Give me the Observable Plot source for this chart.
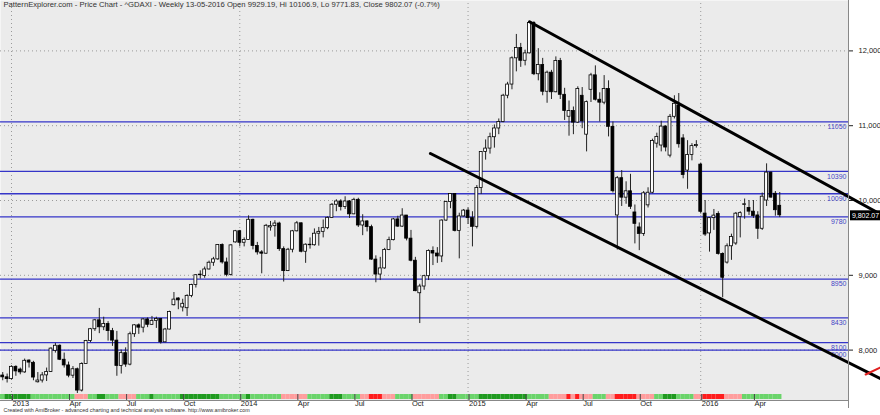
<!DOCTYPE html>
<html><head><meta charset="utf-8">
<script src="https://cdn.jsdelivr.net/npm/d3@7"></script>
<script src="https://cdn.jsdelivr.net/npm/@observablehq/plot@0.6"></script>
<style>body{margin:0;background:#fff} svg{display:block}</style>
</head><body><div id="chart"></div>
<script>
// ---------------- DATA ----------------
const titleText = "PatternExplorer.com - Price Chart - ^GDAXI - Weekly 13-05-2016 Open 9929.19, Hi 10106.9, Lo 9771.83, Close 9802.07 (-0.7%)";
const captionText = "Created with AmiBroker - advanced charting and technical analysis software. http://www.amibroker.com";
const firstWeek = "2012-12-21", lastWeek = "2016-05-13";

const opens = [7660,7636,7612,7776,7740,7702,7860,7830,7570,7593,7662,7708,7990,8058,7871,7795,7658,7744,7459,7814,
8122,8279,8398,8305,8349,8254,8127,7789,7959,7806,8212,8331,8300,8410,8338,8391,8416,8104,8275,8600,
8690,8570,8560,8725,8869,9001,8990,9078,9168,9213,9405,9172,9006,9440,9589,9435,9473,9742,9393,9306,
9289,9640,9657,9692,9350,9056,9342,9588,9695,9315,9409,9402,9556,9581,9630,9768,9943,9987,9912,9987,
9815,10009,9666,9720,9644,9210,9010,9092,9339,9470,9747,9651,9799,9490,9195,8760,8850,8988,9326,9291,
9252,9732,9980,10087,9594,9787,9865,9764,9648,10167,10649,10694,10846,10963,11050,11401,11550,11901,12039,11868,
11967,12374,11688,11811,11454,11709,11447,11864,11413,11120,11196,11041,11400,10880,11480,11673,11347,11308,11490,10985,
9800,10298,10038,10123,9840,9640,9553,9935,10104,10760,10735,10988,10600,11119,11270,10830,10400,10608,10727,10480,
9825,9560,9764,9820,9286,9170,9388,9425,9780,9940,9900,9851,9800,9622,10000,10373,10090,9929.19];
const highs = [7700,7680,7790,7790,7760,7880,7870,7850,7700,7700,7760,8030,8090,8070,7960,7840,7780,7760,7830,8130,
8290,8410,8557,8440,8380,8290,8250,8000,8030,8240,8340,8350,8420,8430,8450,8440,8420,8290,8520,8770,
8700,8680,8740,8880,9010,9060,9110,9190,9240,9410,9420,9230,9410,9600,9600,9500,9795,9750,9440,9330,
9680,9720,9730,9710,9380,9360,9600,9720,9700,9420,9500,9620,9640,9740,9780,9960,10010,10010,10050,10000,
10030,10030,9810,9730,9670,9260,9240,9360,9510,9760,9790,9890,9800,9600,9240,8880,9000,9340,9380,9370,
9740,9990,10093,10090,9830,9880,9900,9850,10200,10650,10810,10900,11010,11090,11420,11580,11920,12220,12100,12010,
12390,12390,12030,11900,11730,11740,11920,11900,11500,11330,11250,11520,11510,11330,11700,11800,11440,11670,11600,11050,
10320,10400,10250,10350,9940,9700,10120,10170,10820,10900,11060,11000,11150,11400,11430,10880,10800,10760,10800,10500,
10000,9770,9880,9850,9300,9420,9550,9840,9850,10020,10000,10000,9850,10100,10490,10380,10120,10106.9];
const lows = [7590,7560,7600,7650,7670,7690,7760,7590,7560,7560,7580,7700,7960,7860,7760,7630,7620,7420,7440,7810,
8100,8250,8220,8260,8120,8050,7650,7680,7770,7790,8170,8210,8230,8300,8330,8290,8080,8100,8270,8590,
8540,8510,8450,8700,8830,8950,8960,9070,9120,9200,9150,8980,8990,9430,9380,9380,9470,9340,9270,9020,
9280,9590,9510,9320,8910,9050,9300,9580,9300,9160,9350,9390,9390,9500,9610,9760,9850,9860,9880,9760,
9810,9640,9530,9580,9200,8900,8930,9080,9330,9460,9640,9640,9460,9180,8780,8355,8800,8930,9130,9160,
9170,9720,9890,9580,9220,9780,9680,9380,9620,10080,10540,10620,10700,10880,11040,11360,11480,11720,11780,11800,
11960,11670,11600,11400,11300,11350,11440,11350,11070,10860,10880,11030,10960,10650,11310,11330,11050,11280,10850,10100,
9338,9920,9950,9880,9420,9330,9520,9900,10090,10700,10650,10650,10570,11090,10700,10290,10150,10530,10700,9820,
9520,9310,9600,9270,8700,9150,9200,9400,9500,9750,9800,9760,9480,9600,9920,10030,9790,9771.83];
const closes = [7636,7612,7776,7715,7702,7857,7833,7633,7593,7662,7708,8020,8058,7871,7795,7658,7744,7459,7814,8122,
8279,8398,8305,8349,8254,8127,7789,7959,7806,8212,8331,8300,8410,8338,8391,8416,8104,8275,8510,8675,
8665,8619,8725,8869,9001,9009,9078,9168,9213,9405,9172,9006,9400,9589,9435,9473,9742,9393,9306,9289,
9662,9657,9692,9350,9056,9342,9588,9695,9315,9409,9402,9556,9581,9630,9768,9943,9987,9912,9987,9815,
10009,9666,9720,9644,9210,9010,9092,9339,9470,9747,9651,9799,9490,9195,8788,8850,8988,9326,9291,9252,
9732,9980,10087,9594,9787,9865,9764,9648,10167,10649,10694,10846,10963,11050,11401,11550,11901,12039,11868,11967,
12374,11688,11811,11454,11709,11447,11864,11413,11197,11196,11041,11492,11058,11315,11673,11347,11308,11490,10985,10124,
10298,10038,10123,9916,9688,9553,10096,10104,10795,10850,10988,10708,11119,11293,10752,10340,10608,10727,10743,9849,
9545,9764,9798,9286,8967,9388,9513,9824,9831,9950,9851,9794,9622,10051,10373,10039,9870,9802.07];

// trend ribbon, one letter per week: G dark green, g light green, p pink, r red
const trendCodes = "gGGGGGGggggggggggpppggGGgggppppgggGggggggGGGGGGGGGggggggGgggggggppppppgggggGGGggggpprrrpppggggppppppggGGgggggGGGGGGGGGGGgggggpppprprpppgggpprrrrrppppggGGGggggpprrrrrppppggggggggg";
const trendColors = {G: "#1f9a1f", g: "#6ad46a", p: "#ff9d9d", r: "#ff1c1c"};

const levels = [11050, 10390, 10090, 9780, 8950, 8430, 8100, 8000];
const yTicks = [8000, 9000, 10000, 11000, 12000];
const tickDates = ["2013-01-04","2013-04-05","2013-07-05","2013-10-04","2014-01-03","2014-04-04","2014-07-04","2014-10-03",
                   "2015-01-02","2015-04-03","2015-07-03","2015-10-02","2016-01-08","2016-04-01"];
const tickLabels = ["2013","Apr","Jul","Oct","2014","Apr","Jul","Oct","2015","Apr","Jul","Oct","2016","Apr"];
const yearStarts = ["2013-01-04","2014-01-03","2015-01-02","2016-01-08"];
const upperTrend = [["2015-04-10", 12390], ["2016-10-20", 9820]];
const lowerTrend = [["2014-11-03", 10628], ["2016-10-20", 7620]];
const redMark = [["2016-09-27", 7674], ["2016-10-20", 7767]];
const lastClose = 9802.07;

// ---------------- LAYOUT ----------------
const W = 880, H = 415, mR = 32, mB = 15;
const plotW = W - mR;
const DAY = 864e5, WEEK = 7 * DAY;
const anchorT = Date.UTC(2013, 0, 4), anchorPx = 11, pxPerWeek = 4.39;
const xStart = anchorT - (anchorPx / pxPerWeek) * WEEK;
const xEnd = anchorT + ((plotW - anchorPx) / pxPerWeek) * WEEK;
const dateAtPx = px => new Date(xStart + px * (xEnd - xStart) / plotW);
const pxPerPoint = 0.0748, midVal = 10000, midPx = 200;
const plotH = H - mB;
const yDomain = [midVal - (plotH - midPx) / pxPerPoint, midVal + midPx / pxPerPoint];

const weeks = d3.utcFriday.range(new Date(firstWeek), new Date(Date.parse(lastWeek) + DAY));
const bars = weeks.map((date, i) => ({date, open: opens[i], high: highs[i], low: lows[i], close: closes[i], code: trendCodes[i]}));
const shift = (d, days) => new Date(+d + days * DAY);
const pt = ([d, v]) => ({date: new Date(d), v});
const labelOf = new Map(tickDates.map((d, i) => [+new Date(d), tickLabels[i]]));

const font = "'Liberation Sans', Arial, sans-serif";

const chart = Plot.plot({
  width: W, height: H,
  marginLeft: 0, marginRight: mR, marginTop: 0, marginBottom: mB,
  style: {fontFamily: font, background: "#fff", color: "#222", overflow: "visible"},
  x: {type: "utc", domain: [new Date(xStart), new Date(xEnd)]},
  y: {domain: yDomain},
  marks: [
    Plot.frame({fill: "#ebebeb", stroke: null}),
    // trend ribbon
    Plot.barX(bars, {x1: d => shift(d.date, -3.5), x2: d => shift(d.date, 3.5), fill: d => trendColors[d.code], insetTop: plotH - 6, insetBottom: 1}),
    // dotted grid
    Plot.ruleY(yTicks, {stroke: "#9a9a9a", strokeDasharray: "1,3"}),
    Plot.ruleX(yearStarts.map(d => new Date(d)), {stroke: "#9a9a9a", strokeDasharray: "1,3", y1: yDomain[0], y2: yDomain[1]}),
    // horizontal levels
    Plot.ruleY(levels, {stroke: "#3535c8", strokeWidth: 1.3}),
    Plot.text(levels, {y: d => d, text: d => String(d), frameAnchor: "right", textAnchor: "end", dx: -2, dy: 5, fill: "#4646c6", fontSize: 7}),
    // candles
    Plot.ruleX(bars, {x: "date", y1: "low", y2: "high", stroke: "#222", strokeWidth: 1}),
    Plot.rect(bars, {x1: d => shift(d.date, -2.3), x2: d => shift(d.date, 2.3), y1: "open", y2: "close",
      fill: d => d.close >= d.open ? "#fff" : "#000", stroke: "#000", strokeWidth: 0.8}),
    // trend lines
    Plot.line(upperTrend.map(pt), {x: "date", y: "v", stroke: "#000", strokeWidth: 3}),
    Plot.line(lowerTrend.map(pt), {x: "date", y: "v", stroke: "#000", strokeWidth: 3}),
    Plot.line(redMark.map(pt), {x: "date", y: "v", stroke: "#e02020", strokeWidth: 2}),
    // axes
    Plot.ruleY([yDomain[0]], {stroke: "#888"}),
    Plot.ruleX([new Date(xEnd)], {stroke: "#888", y1: yDomain[0] - 8 / pxPerPoint, y2: yDomain[1]}),
    Plot.axisY(yTicks, {anchor: "right", tickSize: 4, tickPadding: 6, tickFormat: d3.format(","), fontSize: 7.5, textAnchor: "start"}),
    Plot.axisX(tickDates.map(d => new Date(d)), {anchor: "bottom", tickSize: 6, tickPadding: 0, dy: -6, dx: 1, textAnchor: "start",
      tickFormat: d => labelOf.get(+d), fontSize: 7.5, stroke: "#444"}),
    // last value tag
    Plot.ruleY([lastClose], {x1: dateAtPx(plotW + 2), x2: dateAtPx(W), stroke: "#000", strokeWidth: 10}),
    Plot.text([lastClose], {y: d => d, x: dateAtPx(plotW + 17), text: d => d3.format(",.2f")(d), fill: "#fff", fontSize: 7}),
    // title and caption
    Plot.text([titleText], {frameAnchor: "top-left", dx: 3, dy: 1, lineAnchor: "top", fontSize: 7.65, fill: "#333"}),
    Plot.text([captionText], {frameAnchor: "bottom-left", dx: 3, dy: 11, fontSize: 5.4, fill: "#333"})
  ]
});
document.getElementById("chart").appendChild(chart);
</script>
</body></html>
